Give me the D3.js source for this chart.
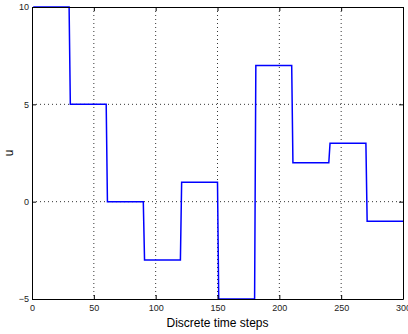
<!DOCTYPE html>
<html>
<head>
<meta charset="utf-8">
<script src="https://cdn.jsdelivr.net/npm/d3@7"></script>
<style>
body { margin: 0; background: #fff; }
text { font-family: "Liberation Sans", Arial, sans-serif; }
</style>
</head>
<body>
<svg></svg>
<script>
var w = 408;
var h = 334;

// step input: one value per block of 30 time steps
var segStarts = [0, 30, 60, 90, 120, 150, 180, 210, 240, 270];
var segValues = [10, 5, 0, -3, 1, -5, 7, 2, 3, -1];
var segLength = 30;
var xTicks = [0, 50, 100, 150, 200, 250, 300];
var yTicks = [-5, 0, 5, 10];

var margin = { left: 32, right: 5, top: 7, bottom: 35 };

var canvas = d3.select("svg")
	.attr("width", w)
	.attr("height", h)
	.style("background-color", "white");

var x = d3.scaleLinear().domain([0, 300]).range([margin.left, w - margin.right]);
var y = d3.scaleLinear().domain([-5, 10]).range([h - margin.bottom, margin.top]);

var x0 = x.range()[0], x1 = x.range()[1];
var y0 = y.range()[0], y1 = y.range()[1];

// dotted grid
var grid = canvas.append("g");
grid.selectAll(".gx")
	.data(xTicks.filter(function (d) { return d > 0 && d < 300; }))
	.join("line")
	.attr("x1", function (d) { return x(d); })
	.attr("x2", function (d) { return x(d); })
	.attr("y1", y1)
	.attr("y2", y0)
	.attr("stroke", "black")
	.attr("stroke-width", 0.8)
	.attr("stroke-dasharray", "1,3");
grid.selectAll(".gy")
	.data(yTicks.filter(function (d) { return d > -5 && d < 10; }))
	.join("line")
	.attr("x1", x0)
	.attr("x2", x1)
	.attr("y1", function (d) { return y(d); })
	.attr("y2", function (d) { return y(d); })
	.attr("stroke", "black")
	.attr("stroke-width", 0.8)
	.attr("stroke-dasharray", "1,3");

// build points of the sampled signal (t = 1..300)
var pts = [];
segStarts.forEach(function (s, i) {
	pts.push([s + 1, segValues[i]]);
	pts.push([s + segLength, segValues[i]]);
});

var line = d3.line()
	.x(function (d) { return x(d[0]); })
	.y(function (d) { return y(d[1]); });

canvas.append("path")
	.datum(pts)
	.attr("d", line)
	.attr("fill", "none")
	.attr("stroke", "#0000ff")
	.attr("stroke-width", 1.5);

// axes with inward ticks (box style)
var fmt = function (d) { return d < 0 ? "\u2212" + Math.abs(d) : d; };

canvas.append("g")
	.attr("transform", "translate(0," + y0 + ")")
	.call(d3.axisBottom(x).tickValues(xTicks).tickSizeInner(-4).tickSizeOuter(0).tickPadding(6).tickFormat(fmt));
canvas.append("g")
	.attr("transform", "translate(0," + y1 + ")")
	.call(d3.axisTop(x).tickValues(xTicks).tickSizeInner(-4).tickSizeOuter(0).tickFormat(""));
canvas.append("g")
	.attr("transform", "translate(" + x0 + ",0)")
	.call(d3.axisLeft(y).tickValues(yTicks).tickSizeInner(-4).tickSizeOuter(0).tickPadding(3).tickFormat(fmt));
canvas.append("g")
	.attr("transform", "translate(" + x1 + ",0)")
	.call(d3.axisRight(y).tickValues(yTicks).tickSizeInner(-4).tickSizeOuter(0).tickFormat(""));

canvas.selectAll(".domain").attr("stroke", "black").attr("stroke-width", 1);
canvas.selectAll(".tick line").attr("stroke", "black");
canvas.selectAll(".tick text")
	.attr("font-size", 9)
	.attr("fill", "#222")
	.style("font-family", "'Liberation Sans', Arial, sans-serif");

canvas.append("text")
	.attr("x", (x0 + x1) / 2)
	.attr("y", 327)
	.attr("text-anchor", "middle")
	.attr("font-size", 12)
	.text("Discrete time steps");

canvas.append("text")
	.attr("transform", "translate(13," + ((y0 + y1) / 2) + ") rotate(-90)")
	.attr("text-anchor", "middle")
	.attr("font-size", 12)
	.text("u");
</script>
</body>
</html>
